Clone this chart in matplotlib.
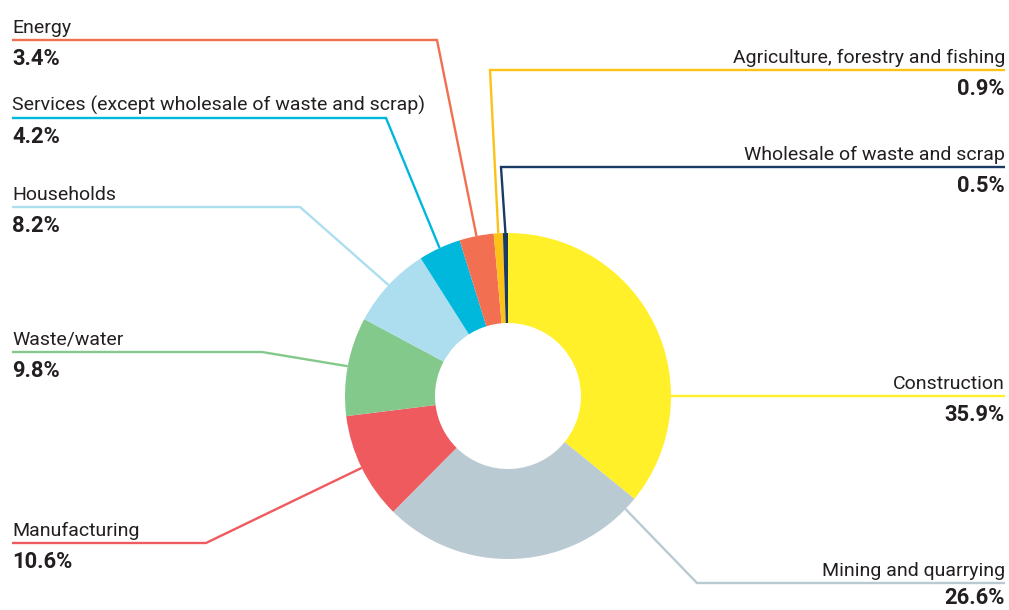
import numpy as np
import matplotlib
matplotlib.use("Agg")
import matplotlib.pyplot as plt

# Data (share of total, %), clockwise from 12 o'clock
sectors = ["Construction", "Mining and quarrying", "Manufacturing", "Waste/water",
           "Households", "Services (except wholesale of waste and scrap)", "Energy",
           "Agriculture, forestry and fishing", "Wholesale of waste and scrap"]
shares = [35.9, 26.6, 10.6, 9.8, 8.2, 4.2, 3.4, 0.9, 0.5]
share_labels = ["35.9%", "26.6%", "10.6%", "9.8%", "8.2%", "4.2%", "3.4%", "0.9%", "0.5%"]
colors = ["#FFF02A", "#B9CAD2", "#EF5A5F", "#84C98C", "#ADDEEF",
          "#00B7DC", "#F26F52", "#FDC216", "#1B3A63"]

# Layout in pixel space (y grows downward)
W, H = 1009, 610
cx, cy, r_out, r_in = 508, 396, 163, 73
# where the leader leaves each wedge (0 = start, 1 = end of wedge)
anchor_pos = [0.697, 0.05, 0.5, 0.5, 0.5, 0.5, 0.5, 0.5, 0.5]
# elbow of each leader line, label side, and y of the underline
elbows = [None, (697, 583), (206, 543), (262, 352), (300, 207),
          (386, 118), (437, 40), (490, 70), (501, 167)]
line_y = [396, 583, 543, 352, 207, 118, 40, 70, 167]
pct_offset = [25, 21, 25, 25, 25, 25, 25, 25, 25]
sides = ["right", "right", "left", "left", "left", "left", "left", "right", "right"]
x_left, x_right = 12, 1005

text_col = "#231F20"
fam = ["Roboto", "DejaVu Sans"]

fig = plt.figure(figsize=(W / 100, H / 100), dpi=100)
ax = fig.add_axes([0, 0, 1, 1])

# y axis is inverted, so counterclock in data = clockwise on screen
ax.pie(shares, colors=colors, radius=r_out, center=(cx, cy), startangle=-90,
       counterclock=True, wedgeprops=dict(width=r_out - r_in, linewidth=0),
       frame=True)
ax.set_xlim(0, W)
ax.set_ylim(H, 0)
ax.set_aspect("equal")
ax.axis("off")

total = sum(shares)
cum = np.concatenate([[0], np.cumsum(shares)]) / total

for i, name in enumerate(sectors):
    f = cum[i] + anchor_pos[i] * (cum[i + 1] - cum[i])
    a = np.deg2rad(f * 360)
    px, py = cx + r_out * np.sin(a), cy - r_out * np.cos(a)
    ly = line_y[i]
    x_end = x_right if sides[i] == "right" else x_left
    if elbows[i] is None:
        xs, ys = [px, x_end], [ly, ly]
    else:
        ex, ey = elbows[i]
        xs, ys = [px, ex, x_end], [py, ey, ly]
    ax.plot(xs, ys, color=colors[i], lw=1.7, solid_capstyle="butt",
            solid_joinstyle="miter")
    ha = "right" if sides[i] == "right" else "left"
    ax.text(x_end, ly - 7, name, ha=ha, va="baseline", fontsize=14,
            color=text_col, family=fam)
    ax.text(x_end, ly + pct_offset[i], share_labels[i], ha=ha, va="baseline",
            fontsize=15.8, fontweight="bold", color=text_col, family=fam)

fig.savefig("out.png", dpi=100, facecolor="white")
